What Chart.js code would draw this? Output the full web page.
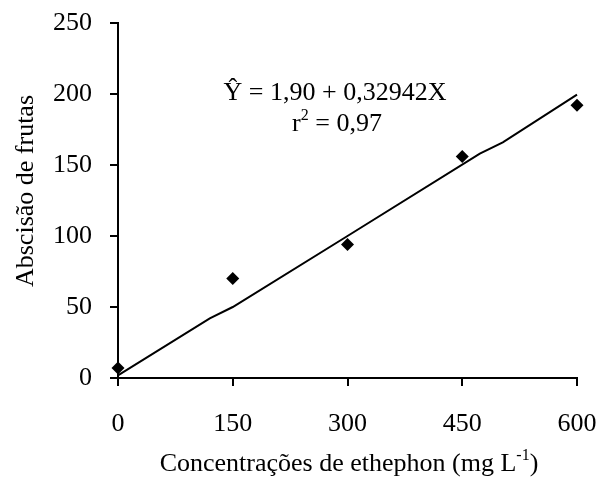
<!DOCTYPE html>
<html>
<head>
<meta charset="utf-8">
<script src="https://cdn.jsdelivr.net/npm/chart.js@4"></script>
<style>
  body { margin: 0; background: #fff; }
  #wrap { width: 600px; height: 478px; }
</style>
</head>
<body>
<div id="wrap"><canvas id="myChart"></canvas></div>
<script>
// observed values
const doses = [0, 150, 300, 450, 600]
const abscisao = [7, 70, 94, 156, 192]

// fitted line as drawn (Y = 1,90 + 0,32942X)
const fitX = [0, 120, 150, 300, 473, 503, 600]
const fitY = [1.9, 42, 50, 100, 158, 166, 199.5]

const xTicks = [0, 150, 300, 450, 600]
const yTicks = [0, 50, 100, 150, 200, 250]

const FONT = 'Liberation Serif, Times New Roman, serif'

// text with a superscript part: [normal, sup, normal]
function drawSup(ctx, parts, cx, y, size, supSize, rise) {
    ctx.font = size + 'px ' + FONT
    var w0 = ctx.measureText(parts[0]).width
    var w2 = ctx.measureText(parts[2]).width
    ctx.font = supSize + 'px ' + FONT
    var w1 = ctx.measureText(parts[1]).width
    var x = cx - (w0 + w1 + w2) / 2
    ctx.textAlign = 'left'
    ctx.font = size + 'px ' + FONT
    ctx.fillText(parts[0], x, y)
    ctx.font = supSize + 'px ' + FONT
    ctx.fillText(parts[1], x + w0, y - rise)
    ctx.font = size + 'px ' + FONT
    ctx.fillText(parts[2], x + w0 + w1, y)
}

// draws equation and axis titles
const textPlugin = {
    id: 'texts',
    afterDraw(chart) {
        const ctx = chart.ctx
        ctx.save()
        ctx.fillStyle = '#000'
        ctx.textBaseline = 'alphabetic'

        // equation
        ctx.font = '26px ' + FONT
        ctx.textAlign = 'center'
        ctx.fillText('Ŷ = 1,90 + 0,32942X', 335, 100)
        drawSup(ctx, ['r', '2', ' = 0,97'], 337, 131, 26, 16, 11)

        // x axis title
        drawSup(ctx, ['Concentrações de ethephon (mg L', '-1', ')'], 349, 471, 26, 16, 11)

        // y axis title
        ctx.translate(33, 191)
        ctx.rotate(-Math.PI / 2)
        ctx.font = '26px ' + FONT
        ctx.textAlign = 'center'
        ctx.fillText('Abscisão de frutas', 0, 0)
        ctx.restore()
    }
}

const data = {
    datasets: [{
        type: 'line',
        label: 'Ajuste',
        data: fitX.map((x, i) => ({ x: x, y: fitY[i] })),
        borderColor: '#000',
        borderWidth: 2,
        pointRadius: 0,
        tension: 0,
        fill: false,
        clip: false
    }, {
        type: 'scatter',
        label: 'Abscisão de frutas',
        data: doses.map((x, i) => ({ x: x, y: abscisao[i] })),
        pointStyle: 'rectRot',
        pointRadius: 6.5,
        backgroundColor: '#000',
        borderColor: '#000',
        borderWidth: 0,
        clip: false
    }]
}

const config = {
    data,
    options: {
        responsive: true,
        maintainAspectRatio: false,
        animation: false,
        layout: { padding: { top: 23, right: 23, left: 0, bottom: 0 } },
        plugins: {
            legend: { display: false },
            tooltip: { enabled: false }
        },
        scales: {
            x: {
                type: 'linear',
                min: 0,
                max: 600,
                afterBuildTicks: (s) => { s.ticks = xTicks.map(v => ({ value: v })) },
                afterFit: (s) => { s.height = 100; s.paddingLeft = 0; s.paddingRight = 0 },
                border: { color: '#000', width: 2 },
                grid: { drawOnChartArea: false, drawTicks: true, tickLength: 8, color: '#000', lineWidth: 2 },
                ticks: { color: '#000', font: { family: FONT, size: 26 }, padding: 23, maxRotation: 0 }
            },
            y: {
                min: 0,
                max: 250,
                afterBuildTicks: (s) => { s.ticks = yTicks.map(v => ({ value: v })) },
                afterFit: (s) => { s.width = 118; s.paddingTop = 0; s.paddingBottom = 0 },
                border: { color: '#000', width: 2 },
                grid: { drawOnChartArea: false, drawTicks: true, tickLength: 8, color: '#000', lineWidth: 2 },
                ticks: { color: '#000', font: { family: FONT, size: 26 }, padding: 18 }
            }
        }
    },
    plugins: [textPlugin]
}

var chart = new Chart(document.getElementById('myChart'), config)
</script>
</body>
</html>
